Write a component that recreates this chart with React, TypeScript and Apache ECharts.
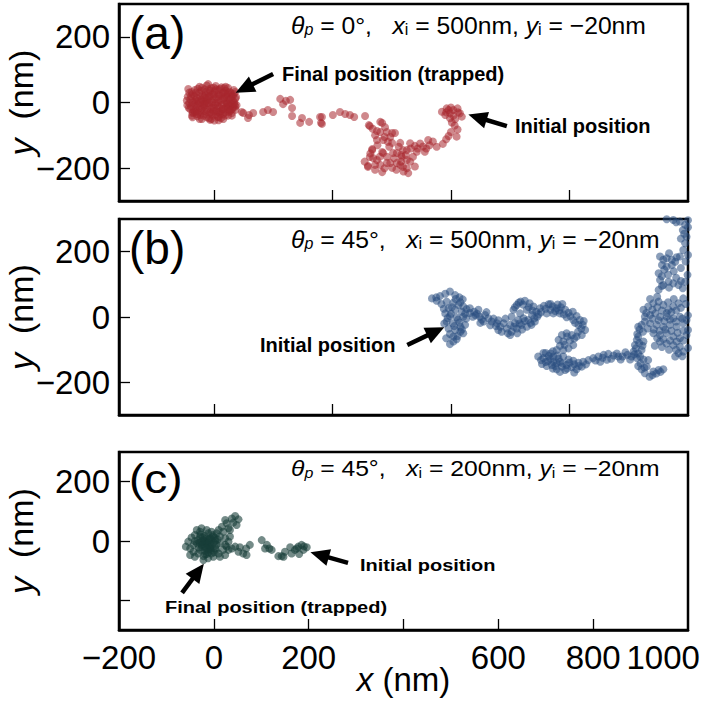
import React, { useEffect, useRef } from 'react';
import * as echarts from 'echarts';

const FONT = '"Liberation Sans", Arial, Helvetica, sans-serif';

// ---------- axis ticks / labels ----------
const xTicksAB = [0, 250, 500, 750];
const xTicksC = [0, 200, 400, 600, 800];
const xLabelsC = [-200, 0, 200, 600, 800, 1000];
const yTicks = [-200, 0, 200];
const yLabelsAB = [-200, 0, 200];
const yLabelsC = [0, 200];

// ---------- panel (a): theta_p = 0, x_i = 500, y_i = -20 ----------
const aTrapped: number[][] = [
  [-50, 10], [-48, -12], [-45, 25], [-44, -30], [-42, 2], [-40, 38], [-38, -20], [-36, 15], [-35, -42], [-33, -5],
  [-31, 30], [-30, 48], [-28, -28], [-27, 8], [-25, -50], [-24, 22], [-22, -14], [-20, 40], [-19, 0], [-18, -35],
  [-16, 14], [-15, 52], [-14, -22], [-12, 30], [-11, -8], [-10, -48], [-9, 18], [-8, -30], [-6, 5], [-5, 44],
  [-4, -16], [-3, 26], [-2, -40], [0, 10], [1, -55], [2, 34], [3, -6], [4, 50], [5, -24], [6, 16],
  [8, -44], [9, 0], [10, 38], [11, -14], [12, 22], [14, -34], [15, 6], [16, 46], [18, -20], [19, 28],
  [20, -50], [21, -4], [22, 14], [24, -30], [25, 36], [26, 2], [28, -12], [29, 24], [30, -40], [31, 10],
  [33, -22], [34, 32], [35, -2], [37, 18], [38, -32], [40, 6], [41, -14], [42, 26], [44, -6], [45, 12],
  [46, -22], [-52, -2], [-46, -40], [-41, 20], [-37, -10], [-34, 42], [-29, -38], [-26, -18], [-23, 4], [-21, -40],
  [-17, 32], [-13, -2], [-7, -20], [-1, 20], [7, -10], [13, 42], [17, -8], [23, -40], [27, 18], [32, -28],
  [36, 28], [39, -20], [43, 0], [-47, 32], [-43, -22], [-39, 8], [-32, -30], [-26, 36], [-20, -26], [-14, 8],
  [-8, 36], [-2, -28], [4, -36], [10, 26], [16, -26], [22, 44], [28, -2], [34, -10], [40, 20], [-55, 18],
  [-53, -16], [-57, 6], [-54, 41], [-8, -53], [45, 32], [-30, -50], [30, 44], [48, -8], [-45, -32], [-12, 56],
  [10, -54], [47, 16], [-56, -8], [0, -15], [-18, 22], [20, 30], [-36, -26], [-4, 0], [12, -28], [-24, -6],
];
const aTrappedCore: number[][] = [
  [-45, 0], [-40, -5], [-35, 5], [-30, -15], [-25, 10], [-20, -10], [-15, -30], [-10, 0], [-5, -35], [0, 25],
  [5, 0], [10, -30], [15, 20], [20, 10], [25, -15], [30, -5], [35, 10], [-40, -30], [-30, 20], [-20, 15],
  [-10, 40], [0, 45], [10, -45], [20, -35], [30, 30], [40, -5], [-50, -20], [-48, 20], [45, -12], [38, -40],
  [-38, 30], [-15, -45], [5, 40], [15, -48], [25, 48], [-25, 45], [-5, -50], [-45, -45], [42, 38], [-52, 30],
  [0, -25], [-10, 20], [-20, -5], [10, 10], [20, -20], [30, -20], [-30, 0], [-35, -35], [35, -25], [25, 25],
];
const aTrail: number[][] = [
  [59, -29], [62, -32], [72, -47], [74, -38], [83, -32], [104, -29], [114, -23], [125, -29], [140, 11], [146, -5],
  [152, 5], [161, 8], [165, -17], [165, -41], [182, -62], [186, -47], [201, -59], [224, -44], [226, -62], [228, -44],
  [228, -65], [251, -38], [266, -29], [277, -35], [287, -38], [296, -44], [319, -41],
];
const aLoop: number[][] = [
  [355, -62], [329, -72], [351, -90], [376, -93], [344, -114], [367, -120], [393, -123], [334, -142], [355, -151], [378, -154],
  [399, -145], [329, -166], [344, -175], [365, -184], [386, -184], [407, -175], [325, -196], [355, -212], [376, -199], [399, -196],
  [410, -215], [327, -69], [351, -59], [361, -75], [344, -87], [357, -114], [334, -145], [357, -154], [336, -169], [325, -193],
  [351, -190], [372, -184], [386, -154], [376, -123], [382, -93], [462, -119], [452, -114], [441, -134], [424, -132], [414, -124],
  [407, -145], [428, -150], [445, -150], [396, -165], [414, -180], [424, -195], [407, -200], [393, -190],
  [340, -100], [360, -105], [370, -135], [390, -135], [345, -130], [330, -155], [350, -165], [365, -165], [380, -170], [395, -160],
  [340, -190], [360, -200], [385, -205], [395, -180], [405, -160], [415, -140], [430, -140], [420, -165], [335, -80], [365, -90],
  [372, -105], [318, -180], [340, -205], [400, -210], [435, -125], [455, -130], [470, -135], [448, -140],
];
const aInitial: number[][] = [
  [481, -28], [491, -18], [498, -33], [505, -23], [514, -18], [519, -33], [523, -43], [488, -38], [498, -48], [509, -51],
  [502, -61], [495, -23], [514, -82], [495, -102], [512, -104], [483, -126], [505, -40], [515, -30], [490, -30], [500, -15],
  [508, -70], [500, -90], [490, -112],
];

// ---------- panel (b): theta_p = 45, x_i = 500, y_i = -20 ----------
const bStart: number[][] = [
  [460, 57], [469, 60], [477, 64], [488, 71], [498, 78], [509, 67], [518, 60], [525, 54], [491, 47], [505, 44],
  [516, 37], [526, 32], [495, 27], [509, 22], [523, 16], [533, 24], [488, 11], [498, 3], [512, -1], [526, 1],
  [491, -14], [504, -19], [518, -17], [530, -24], [495, -35], [509, -40], [523, -38], [498, -52], [514, -58], [526, -50],
  [505, -75], [498, -83], [512, -68], [500, 10], [515, -8], [493, -3], [520, -30], [507, -28], [485, 25], [530, 10],
  [502, 30], [480, 40], [470, 50], [520, 45], [510, 55], [486, -20], [520, -45], [532, -5], [540, 12], [505, -60],
  [490, -65],
];
const bMiddle: number[][] = [
  [540, 27], [549, 16], [558, 22], [546, 1], [561, 1], [572, 6], [579, -4], [569, -14], [586, -14], [597, -19],
  [604, -30], [611, -19], [607, -45], [618, -35], [625, -24],
  [628, 1], [632, 22], [639, 37], [647, 47], [656, 50], [666, 42], [674, 32], [680, 16], [682, 1], [677, -14],
  [670, -24], [660, -30], [649, -24], [642, -9], [635, -19], [646, 11], [660, 22], [671, 6], [663, -9], [653, -4],
  [639, -35], [628, -45],
  [555, 10], [565, -8], [575, 15], [590, -5], [600, -10], [615, -5], [620, -50], [600, -40], [595, -28], [583, -25],
  [562, -18], [552, 5], [635, 30], [643, 44], [652, 38], [664, 30], [672, 20], [668, -18], [656, -12], [645, -20],
  [633, -30], [650, -38], [625, -55], [640, -50], [685, 8], [676, -4],
];
const bRidge: number[][] = [
  [688, 27], [696, 34], [706, 39], [715, 32], [723, 27], [732, 30], [741, 22], [748, 13], [757, 16], [765, 3],
  [772, -9], [778, -24], [783, -40], [776, -55], [765, -60], [702, 11], [716, 11], [730, 11], [744, -1], [758, -9],
  [769, -24], [755, -55], [744, -50], [734, -55], [727, -70], [737, -75], [751, -72], [758, -86], [748, -96], [737, -101],
  [723, -101],
  [690, 15], [700, 25], [710, 22], [720, 18], [728, 20], [738, 8], [752, 2], [762, -18], [775, -35], [768, -45],
  [780, -12], [710, 40], [725, 38], [735, 40], [740, -85], [745, -60], [760, -66], [730, -88], [715, -105], [700, -110],
  [710, -112],
];
const bBlob: number[][] = [
  [684, -121], [695, -126], [706, -119], [716, -121], [727, -128], [737, -121], [748, -130], [758, -134], [769, -140], [779, -137],
  [790, -132], [692, -144], [702, -150], [713, -147], [723, -140], [734, -152], [744, -147], [755, -154], [765, -160], [776, -152],
  [730, -137], [716, -137], [741, -162], [723, -160],
  [690, -132], [700, -138], [710, -128], [720, -150], [735, -142], [750, -140], [760, -145], [770, -150], [785, -145], [695, -110],
  [705, -135], [725, -118], [745, -158], [760, -170], [730, -168], [715, -158],
  [800, -126], [811, -121], [822, -116], [832, -113], [843, -118], [853, -121], [862, -121], [872, -116], [881, -121], [892, -126],
  [815, -137], [829, -131], [805, -133], [820, -125], [838, -128], [850, -112], [858, -130], [868, -108], [878, -130], [887, -114],
];
const bColumn: number[][] = [
  [885, -106], [888, -86], [892, -70], [893, -52], [898, -38], [902, -24], [909, -14], [906, -75], [902, -101], [899, -121],
  [900, -142], [902, -160], [909, -172], [919, -183], [927, -167], [938, -162], [948, -160], [913, -152], [916, -132],
  [890, -96], [895, -60], [897, -80], [905, -45], [895, -30], [904, -88], [895, -112], [906, -130], [908, -155], [895, -150],
  [925, -178], [933, -173], [942, -168],
];
const bRight: number[][] = [
  [906, 22], [916, 32], [927, 42], [938, 47], [948, 37], [959, 22], [969, 32], [980, 42], [990, 57], [1001, 67],
  [909, 1], [920, 6], [931, 11], [941, 1], [955, 1], [969, -4], [983, 1], [997, -9], [920, -19], [934, -24],
  [948, -30], [962, -24], [976, -30], [990, -19], [1003, -30], [927, -50], [941, -55], [955, -50], [969, -60], [983, -65],
  [997, -55], [941, -75], [955, -81], [969, -86], [983, -91], [980, -111], [973, -121], [990, -106], [1001, -81],
  [912, 12], [925, 22], [935, 30], [945, 20], [955, 12], [965, 15], [975, 20], [985, 28], [995, 40], [925, -5],
  [938, -10], [950, -12], [962, -8], [975, -14], [988, -5], [1000, 5], [915, -35], [928, -38], [940, -42], [952, -38],
  [965, -42], [978, -48], [990, -42], [1000, -40], [935, -65], [948, -68], [962, -72], [976, -75], [990, -72], [1000, -95],
  [960, -100], [975, -100], [988, -120], [930, -88], [945, -92], [920, 55], [935, 62], [958, 45], [970, 55],
];
const bTop: number[][] = [
  [938, 83], [948, 98], [959, 108], [969, 103], [980, 98], [989, 88], [994, 108], [999, 129], [1001, 154], [941, 185],
  [948, 175], [955, 180], [966, 175], [976, 183], [945, 159], [955, 154], [966, 159], [973, 169], [983, 185], [990, 205],
  [994, 226], [997, 246], [989, 266], [994, 282], [983, 292], [969, 297], [955, 299], [1003, 256], [1004, 215], [938, 134],
  [941, 113], [945, 125], [958, 130], [970, 140], [985, 150], [995, 170], [1000, 190], [960, 195], [950, 145], [985, 240],
  [992, 255], [1000, 275], [975, 290], [1000, 296], [945, 95], [960, 90], [975, 120], [985, 110],
];

// ---------- panel (c): theta_p = 45, x_i = 200, y_i = -20 ----------
const cInitial: number[][] = [
  [178, -19], [185, -13], [196, -21], [189, -30], [180, -44], [171, -30], [164, -42], [161, -21], [150, -36], [143, -51],
  [136, -51], [147, -53], [175, -25], [190, -18],
];
const cTrail: number[][] = [
  [101, 3], [112, -13], [117, -25], [122, -30], [108, -25], [76, -13], [68, -25], [62, -42], [69, -47], [55, -21],
  [52, -36], [45, -19], [38, -25], [31, -30], [24, -47],
];
const cTrapped: number[][] = [
  [17, 48], [27, 60], [38, 76], [45, 84], [52, 73], [41, 62], [31, 43], [20, 31], [34, 37], [48, 54],
  [10, 37], [24, 71], [-36, 37], [-26, 43], [-15, 37], [-5, 31], [6, 26], [13, 15], [24, 9], [31, -2],
  [27, -19], [20, -30], [10, -42], [-1, -53], [-12, -58], [-22, -51], [-33, -42], [-43, -36], [-50, -25], [-59, -19],
  [-54, -2], [-47, 12], [-40, 20], [-29, 15], [-19, 17], [-8, 9], [3, 1], [13, -8], [-15, -8], [-26, -13],
  [-36, -8], [-8, -25], [-19, -33], [3, -25], [-29, -30], [-5, -42], [-15, -44], [6, -13], [-22, 3], [-33, 3],
  [-12, 26], [-1, 15], [-43, -13], [-8, -8], [-19, -19], [-29, 31], [-50, -47], [-40, -53], [13, -53], [24, -13],
  [34, 15], [-22, -64], [-20, 0], [-10, -15], [-25, -20], [-5, 5], [-15, 10], [0, -5], [-30, -5], [-12, -30],
  [5, -30], [-18, -45], [-2, 20], [-28, 22], [-40, 0], [-8, -20], [8, 5], [-22, -10], [-14, -2], [-4, -12],
  [-32, -22], [0, -38], [-18, -5], [-10, 5], [-26, -2], [-6, -30], [-16, -24], [2, 10], [-24, 12], [-12, -38],
];

// arrows (tail -> head) in data coordinates
const aArrows = [
  [[125, 87], [64, 43]],
  [[618, -72], [556, -45]],
];
const bArrows = [[[408, -86], [468, -44]]];
const cArrows = [
  [[-67, -175], [-33, -102]],
  [[283, -74], [223, -47]],
];

const fmt = (v: number) => {
  if (v === 1000) return '{k|1000}';
  return v < 0 ? '\u2212' + Math.abs(v) : String(v);
};

export default function App() {
  const ref = useRef<HTMLDivElement>(null);

  useEffect(() => {
    document.body.style.margin = '0';
    const chart = echarts.init(ref.current!, undefined, { renderer: 'svg' });

    const grids = [
      { left: 119, top: 4, width: 569, height: 197 },
      { left: 119, top: 219, width: 569, height: 196 },
      { left: 119, top: 452, width: 569, height: 178 },
    ];

    const nameStyle = (size: number) => ({
      fontSize: size,
      fontFamily: FONT,
      color: '#000',
      rich: { i: { fontStyle: 'italic', fontSize: size, fontFamily: FONT, color: '#000' } },
    });

    const tickFont = { fontSize: 33, fontFamily: FONT, color: '#000' };

    const xAxis = [0, 1, 2].map((i) => ({
      type: 'value',
      gridIndex: i,
      min: -200,
      max: 1000,
      axisLine: { show: true, onZero: false, lineStyle: { color: '#000', width: 2.5 } },
      axisTick: {
        show: true,
        inside: true,
        length: 11,
        lineStyle: { color: '#000', width: 1.3 },
        customValues: i < 2 ? xTicksAB : xTicksC,
      },
      axisLabel:
        i < 2
          ? { show: false }
          : {
              show: true,
              customValues: xLabelsC,
              formatter: fmt,
              ...tickFont,
              margin: 11,
              hideOverlap: false,
              rich: {
                k: { ...tickFont, width: 123, align: 'left' },
              },
            },
      splitLine: { show: false },
      name: i === 2 ? '{i|x} (nm)' : '',
      nameLocation: 'middle',
      nameGap: 33,
      nameMoveOverlap: false,
      nameTextStyle: nameStyle(33),
    }));

    const yAxis = [0, 1, 2].map((i) => ({
      type: 'value',
      gridIndex: i,
      min: -300,
      max: 300,
      axisLine: { show: true, onZero: false, lineStyle: { color: '#000', width: 2.5 } },
      axisTick: {
        show: true,
        inside: true,
        length: 11,
        lineStyle: { color: '#000', width: 1.3 },
        customValues: yTicks,
      },
      axisLabel: {
        show: true,
        customValues: i < 2 ? yLabelsAB : yLabelsC,
        formatter: fmt,
        ...tickFont,
        margin: 9,
      },
      splitLine: { show: false },
      name: '{i|y}  (nm)',
      nameLocation: 'middle',
      nameGap: 81,
      nameMoveOverlap: false,
      nameTextStyle: nameStyle(34),
    }));

    const arrowMark = (arrows: number[][][]) => ({
      silent: true,
      symbol: ['none', 'triangle'],
      symbolSize: [17, 19],
      label: { show: false },
      emphasis: { disabled: true },
      lineStyle: { color: '#000', width: 4.5, type: 'solid', opacity: 1 },
      itemStyle: { color: '#000' },
      data: arrows.map(([s, e]) => [{ coord: s }, { coord: e }]),
    });

    const scatter = (idx: number, data: number[][], color: string, opacity: number, arrows: number[][][]) => ({
      type: 'scatter',
      xAxisIndex: idx,
      yAxisIndex: idx,
      data,
      symbolSize: 8,
      itemStyle: { color, opacity, borderWidth: 0, borderColor: 'transparent' },
      emphasis: { disabled: true },
      markLine: arrowMark(arrows),
    });

    const titleRich = (size: number) => ({
      it: { fontSize: size, fontStyle: 'italic', fontFamily: FONT, fill: '#000' },
      s: { fontSize: 16, fontFamily: FONT, fill: '#000', verticalAlign: 'bottom', lineHeight: 9 },
      ps: { fontSize: 16, fontStyle: 'italic', fontFamily: FONT, fill: '#000', verticalAlign: 'bottom', lineHeight: 9 },
    });

    const titleText = (y: number, theta: string, xi: string, sy = 1) => ({
      type: 'text',
      x: 291,
      y,
      scaleY: sy,
      style: {
        text: `{it|θ}{ps|p} = ${theta}°,   {it|x}{s|i} = ${xi}nm, {it|y}{s|i} = \u221220nm`,
        rich: titleRich(24.7),
        fontSize: 24.7,
        fontFamily: FONT,
        fill: '#000',
        align: 'left',
        verticalAlign: 'middle',
        lineHeight: 25,
      },
    });

    const letter = (y: number, t: string, sy = 1) => ({
      type: 'text',
      x: 129,
      y,
      scaleY: sy,
      style: { text: t, fontSize: 46, fontFamily: FONT, fill: '#000', align: 'left', verticalAlign: 'middle' },
    });

    const note = (x: number, y: number, t: string, sy = 1) => ({
      type: 'text',
      x,
      y,
      scaleY: sy,
      style: {
        text: t,
        fontSize: 20,
        fontWeight: 'bold',
        fontFamily: FONT,
        fill: '#000',
        align: 'left',
        verticalAlign: 'middle',
      },
    });

    const option = {
      animation: false,
      textStyle: { fontFamily: FONT },
      grid: grids.map((g) => ({
        ...g,
        show: true,
        borderColor: '#000',
        borderWidth: 2.5,
        backgroundColor: 'transparent',
        containLabel: false,
        outerBoundsMode: 'none',
      })),
      xAxis,
      yAxis,
      series: [
        scatter(0, [...aTrapped, ...aTrappedCore, ...aTrail, ...aLoop, ...aInitial], '#a8262e', 0.55, aArrows),
        scatter(1, [...bStart, ...bMiddle, ...bRidge, ...bBlob, ...bColumn, ...bRight, ...bTop], '#284d80', 0.55, bArrows),
        scatter(2, [...cTrapped, ...cTrail, ...cInitial], '#183e38', 0.6, cArrows),
      ],
      graphic: [
        letter(33, '(a)'),
        letter(248, '(b)'),
        letter(479, '(c)', 0.87),
        titleText(25, '0', '500'),
        titleText(239, '45', '500'),
        titleText(469, '45', '200', 0.88),
        note(282, 74, 'Final position (trapped)'),
        note(515, 126, 'Initial position'),
        note(260, 345, 'Initial position'),
        note(165, 607, 'Final position (trapped)', 0.87),
        note(360, 565, 'Initial position', 0.87),
      ],
    };

    chart.setOption(option as any);
    return () => chart.dispose();
  }, []);

  return <div ref={ref} style={{ width: 704, height: 702 }} />;
}
